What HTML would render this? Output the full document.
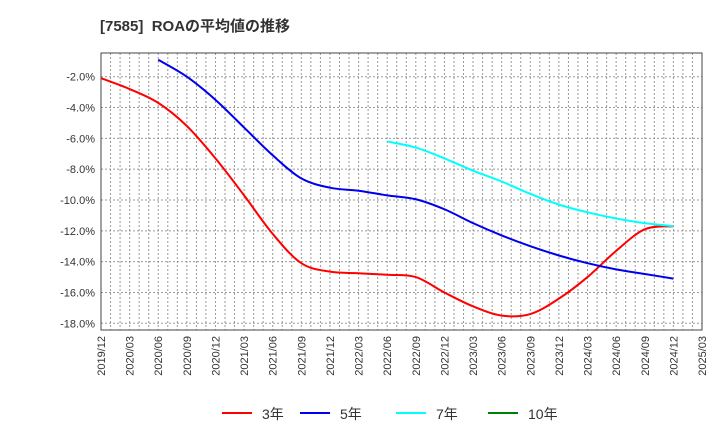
<!DOCTYPE html>
<html><head><meta charset="utf-8"><style>
body{margin:0;background:#fff;font-family:"Liberation Sans","Noto Sans CJK JP",sans-serif}
</style></head><body>
<svg id="c" width="720" height="440" xmlns="http://www.w3.org/2000/svg">
<text x="100" y="31" font-size="15" font-weight="bold" fill="#333" style="white-space:pre">[7585]&#160;&#160;ROAの平均値の推移</text>
</svg>
<script>
const xLabels=["2019/12","2020/03","2020/06","2020/09","2020/12","2021/03","2021/06","2021/09","2021/12","2022/03","2022/06","2022/09","2022/12","2023/03","2023/06","2023/09","2023/12","2024/03","2024/06","2024/09","2024/12","2025/03"];
const yTicks=[-2,-4,-6,-8,-10,-12,-14,-16,-18];
const roa3=[-2.1,-2.8,-3.7,-5.2,-7.3,-9.7,-12.2,-14.1,-14.65,-14.75,-14.85,-15.0,-16.0,-16.9,-17.5,-17.4,-16.4,-15.0,-13.3,-11.9,-11.7];
const roa5=[null,null,-0.9,-2.0,-3.5,-5.3,-7.1,-8.6,-9.2,-9.4,-9.7,-9.95,-10.6,-11.5,-12.3,-13.0,-13.6,-14.1,-14.5,-14.8,-15.1];
const roa7=[null,null,null,null,null,null,null,null,null,null,-6.2,-6.6,-7.3,-8.1,-8.8,-9.6,-10.3,-10.8,-11.2,-11.5,-11.7];
const NS="http://www.w3.org/2000/svg",svg=document.getElementById('c');
const L=101,R=702,T=53,B=330;
const xq=i=>L+i*(R-L)/21;
const y=v=>76.7+(-2-v)*(323.3-76.7)/16;
function mk(t,a){const e=document.createElementNS(NS,t);for(const k in a)e.setAttribute(k,a[k]);svg.appendChild(e);return e;}
for(let m=1;m<63;m++){const x=L+m*(R-L)/63;
const g=mk('line',{x1:x,x2:x,y1:T,y2:B,stroke:'#999','stroke-dasharray':'2,2','stroke-width':1});

}
yTicks.forEach(v=>{
const g=mk('line',{x1:L,x2:R,y1:y(v),y2:y(v),stroke:'#999','stroke-dasharray':'2,2','stroke-width':1});


const t=mk('text',{x:L-6,y:y(v)+4,'text-anchor':'end','font-size':11,fill:'#333'});
t.textContent=v.toFixed(1)+'%';

});
xLabels.forEach((s,i)=>{
const t=mk('text',{transform:`translate(${xq(i)+4},${B+6}) rotate(-90)`,'text-anchor':'end','font-size':11,fill:'#333'});
t.textContent=s;

});
const frame=mk('rect',{x:L,y:T,width:R-L,height:B-T,fill:'none',stroke:'#444','stroke-width':1});


function path(arr,col,name){
const p=[];arr.forEach((v,i)=>{if(v!=null)p.push([xq(i),y(v)]);});
let d=`M${p[0][0]},${p[0][1]}`;
for(let i=0;i<p.length-1;i++){const p0=p[i-1]||p[i],p1=p[i],p2=p[i+1],p3=p[i+2]||p2;
d+=` C${p1[0]+(p2[0]-p0[0])/6},${p1[1]+(p2[1]-p0[1])/6} ${p2[0]-(p3[0]-p1[0])/6},${p2[1]-(p3[1]-p1[1])/6} ${p2[0]},${p2[1]}`;}
const e=mk('path',{d,fill:'none',stroke:col,'stroke-width':2});

}
path(roa3,'#ff0000','line-3yr');
path(roa5,'#0000ee','line-5yr');
path(roa7,'#00ffff','line-7yr');
[['3年','#ff0000',222],['5年','#0000ee',300],['7年','#00ffff',396],['10年','#008000',488]].forEach(([s,c,x])=>{
const l=mk('line',{x1:x,x2:x+30,y1:413,y2:413,stroke:c,'stroke-width':2});


const t=mk('text',{x:x+40,y:419,'font-size':14,fill:'#333'});
t.textContent=s;

});
</script>
</body></html>
